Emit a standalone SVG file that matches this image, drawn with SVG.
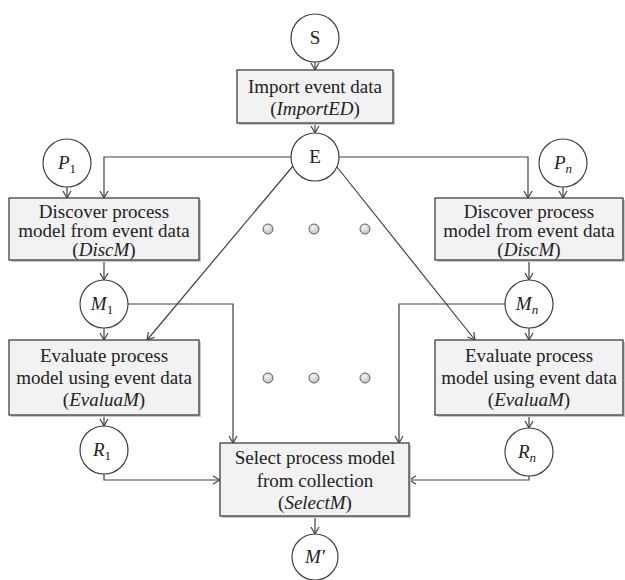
<svg xmlns="http://www.w3.org/2000/svg" width="625" height="580" viewBox="0 0 625 580">
<style>
.box{fill:#f2f2f2;stroke:#404040;stroke-width:1.3}
.shadow{fill:#c8c8c8}
.node{fill:#fff;stroke:#404040;stroke-width:1.2}
text{font-family:'Liberation Serif','Tinos','Times New Roman','DejaVu Serif',serif}
.t{font-size:19px;fill:#222;text-anchor:middle}
.i{font-style:italic}
.sub{font-size:13px}
.c{fill:none;stroke:#404040;stroke-width:1.2}
.dot{fill:url(#dg);stroke:#606060;stroke-width:1}
</style>
<defs>
<marker id="a" markerWidth="10" markerHeight="10" refX="9" refY="5" orient="auto" markerUnits="userSpaceOnUse">
<path d="M2,1 L9,5 L2,9" fill="none" stroke="#404040" stroke-width="1.2"/>
</marker>
<radialGradient id="dg" cx="0.4" cy="0.35" r="0.7">
<stop offset="0" stop-color="#f4f4f4"/>
<stop offset="1" stop-color="#bdbdbd"/>
</radialGradient>
</defs>
<rect width="625" height="580" fill="#fff"/>

<g id="connectors">
<line class="c" x1="315" y1="62" x2="315" y2="70" marker-end="url(#a)"/>
<line class="c" x1="315" y1="123" x2="315" y2="133" marker-end="url(#a)"/>
<polyline class="c" points="291,157 104,157 104,198" marker-end="url(#a)"/>
<polyline class="c" points="339,157 528,157 528,198" marker-end="url(#a)"/>
<line class="c" x1="67" y1="187" x2="67" y2="198" marker-end="url(#a)"/>
<line class="c" x1="563" y1="187" x2="563" y2="198" marker-end="url(#a)"/>
<line class="c" x1="104" y1="260" x2="104" y2="280" marker-end="url(#a)"/>
<line class="c" x1="529" y1="260" x2="529" y2="280" marker-end="url(#a)"/>
<line class="c" x1="104" y1="328" x2="104" y2="340" marker-end="url(#a)"/>
<line class="c" x1="529" y1="328" x2="529" y2="340" marker-end="url(#a)"/>
<line class="c" x1="293" y1="166" x2="147" y2="340" marker-end="url(#a)"/>
<line class="c" x1="337" y1="167" x2="475" y2="340" marker-end="url(#a)"/>
<polyline class="c" points="128,304 233,304 233,443" marker-end="url(#a)"/>
<polyline class="c" points="505,304 399,304 399,443" marker-end="url(#a)"/>
<line class="c" x1="104" y1="415" x2="104" y2="426" marker-end="url(#a)"/>
<line class="c" x1="529" y1="415" x2="529" y2="428" marker-end="url(#a)"/>
<polyline class="c" points="104,474 104,480 220,480" marker-end="url(#a)"/>
<polyline class="c" points="529,476 529,480 409,480" marker-end="url(#a)"/>
<line class="c" x1="315" y1="516" x2="315" y2="534" marker-end="url(#a)"/>
</g>

<g id="S"><circle class="node" cx="315" cy="38" r="24"/><text class="t" x="315" y="44">S</text></g>

<g id="ImportED">
<rect class="shadow" x="239" y="72" width="156" height="53"/>
<rect class="box" x="237" y="70" width="156" height="53"/>
<text class="t" x="315" y="93">Import event data</text>
<text class="t" x="315" y="115">(<tspan class="i">ImportED</tspan>)</text>
</g>

<g id="E"><circle class="node" cx="315" cy="157" r="24"/><text class="t" x="315" y="163">E</text></g>

<g id="P1"><circle class="node" cx="67" cy="163" r="24"/><text class="t" x="67" y="169"><tspan class="i">P</tspan><tspan class="sub" dy="4">1</tspan></text></g>
<g id="Pn"><circle class="node" cx="563" cy="163" r="24"/><text class="t" x="563" y="169"><tspan class="i">P</tspan><tspan class="sub i" dy="4">n</tspan></text></g>

<g id="DiscM1">
<rect class="shadow" x="11" y="200" width="190" height="62"/>
<rect class="box" x="9" y="198" width="190" height="62"/>
<text class="t" x="104" y="218">Discover process</text>
<text class="t" x="104" y="237">model from event data</text>
<text class="t" x="104" y="256">(<tspan class="i">DiscM</tspan>)</text>
</g>
<g id="DiscMn">
<rect class="shadow" x="437" y="200" width="188" height="62"/>
<rect class="box" x="435" y="198" width="188" height="62"/>
<text class="t" x="529" y="218">Discover process</text>
<text class="t" x="529" y="237">model from event data</text>
<text class="t" x="529" y="256">(<tspan class="i">DiscM</tspan>)</text>
</g>

<g id="M1"><circle class="node" cx="104" cy="304" r="24"/><text class="t" x="102" y="310"><tspan class="i">M</tspan><tspan class="sub" dy="4">1</tspan></text></g>
<g id="Mn"><circle class="node" cx="529" cy="304" r="24"/><text class="t" x="527" y="310"><tspan class="i">M</tspan><tspan class="sub i" dy="4">n</tspan></text></g>

<g id="dots">
<circle class="dot" cx="268" cy="229" r="5"/>
<circle class="dot" cx="314" cy="229" r="5"/>
<circle class="dot" cx="365" cy="229" r="5"/>
<circle class="dot" cx="268" cy="378" r="5"/>
<circle class="dot" cx="314" cy="378" r="5"/>
<circle class="dot" cx="365" cy="378" r="5"/>
</g>

<g id="EvaluaM1">
<rect class="shadow" x="11" y="342" width="190" height="75"/>
<rect class="box" x="9" y="340" width="190" height="75"/>
<text class="t" x="104" y="362">Evaluate process</text>
<text class="t" x="104" y="384">model using event data</text>
<text class="t" x="104" y="406">(<tspan class="i">EvaluaM</tspan>)</text>
</g>
<g id="EvaluaMn">
<rect class="shadow" x="437" y="342" width="188" height="75"/>
<rect class="box" x="435" y="340" width="188" height="75"/>
<text class="t" x="529" y="362">Evaluate process</text>
<text class="t" x="529" y="384">model using event data</text>
<text class="t" x="529" y="406">(<tspan class="i">EvaluaM</tspan>)</text>
</g>

<g id="R1"><circle class="node" cx="104" cy="450" r="24"/><text class="t" x="102" y="456"><tspan class="i">R</tspan><tspan class="sub" dy="4">1</tspan></text></g>
<g id="Rn"><circle class="node" cx="529" cy="452" r="24"/><text class="t" x="527" y="458"><tspan class="i">R</tspan><tspan class="sub i" dy="4">n</tspan></text></g>

<g id="SelectM">
<rect class="shadow" x="222" y="445" width="189" height="73"/>
<rect class="box" x="220" y="443" width="189" height="73"/>
<text class="t" x="315" y="464">Select process model</text>
<text class="t" x="315" y="487">from collection</text>
<text class="t" x="315" y="509">(<tspan class="i">SelectM</tspan>)</text>
</g>

<g id="Mprime"><circle class="node" cx="315" cy="557" r="23"/><text class="t" x="315" y="563"><tspan class="i">M′</tspan></text></g>
</svg>
